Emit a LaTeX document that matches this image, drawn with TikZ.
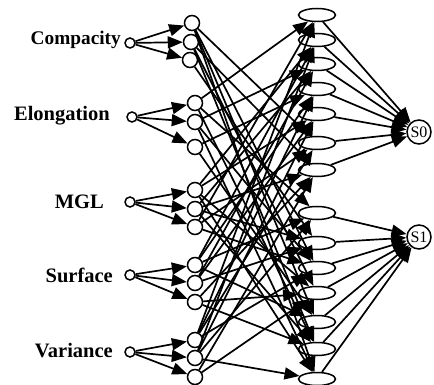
\documentclass[tikz,border=0pt]{standalone}
\usepackage{fontspec}
\setmainfont{Liberation Serif}
\usetikzlibrary{arrows.meta,shapes.geometric}
\begin{document}
\begin{tikzpicture}[x=1pt,y=-1pt,
  inp/.style={circle,draw,line width=1.5pt,minimum size=10pt,inner sep=0pt},
  hid/.style={circle,draw,line width=1.5pt,minimum size=15pt,inner sep=0pt},
  rule/.style={ellipse,draw,line width=1.5pt,minimum width=37pt,minimum height=13pt,inner sep=0pt},
  outn/.style={circle,draw,line width=1.5pt,minimum size=24pt,inner sep=0pt,font=\fontsize{16}{16}\selectfont},
  lab/.style={anchor=base east,inner sep=0pt,font=\fontsize{20.5}{20}\selectfont\bfseries},
  conn/.style={line width=1.7pt,-{Triangle[length=15pt,width=12pt]}}]
\useasboundingbox (0,0) rectangle (434,385);
% labels
\node[lab,font=\fontsize{19.3}{20}\selectfont\bfseries] (l1) at (121,45) {Compacity};
\node[lab] (l2) at (110,121) {Elongation};
\node[lab] (l3) at (104,208) {MGL};
\node[lab] (l4) at (113,282) {Surface};
\node[lab] (l5) at (113,357) {Variance};
% input circles
\node[inp] (in1) at (130,43) {};
\node[inp] (in2) at (132,117) {};
\node[inp] (in3) at (130,202) {};
\node[inp] (in4) at (130,275) {};
\node[inp] (in5) at (130,352) {};
% hidden circles
\node[hid] (h1) at (192,23) {};
\node[hid] (h2) at (191,42) {};
\node[hid] (h3) at (190,60) {};
\node[hid] (h4) at (195,103) {};
\node[hid] (h5) at (195,122) {};
\node[hid] (h6) at (195,147) {};
\node[hid] (h7) at (195,190) {};
\node[hid] (h8) at (195,209) {};
\node[hid] (h9) at (195,227) {};
\node[hid] (h10) at (195,265) {};
\node[hid] (h11) at (195,283) {};
\node[hid] (h12) at (195,302) {};
\node[hid] (h13) at (195,340) {};
\node[hid] (h14) at (195,358) {};
\node[hid] (h15) at (195,377) {};
% rule ellipses
\foreach \i/\y in {1/15,2/40,3/64,4/89,5/114,6/143,7/170,8/213,9/243,10/268,11/293,12/322,13/349,14/379}
  \node[rule] (r\i) at (317,\y) {};
% outputs
\node[outn] (s0) at (419,132) {S0};
\node[outn] (s1) at (419,237) {S1};
% input to hidden
\foreach \a/\b in {in1/h1,in1/h2,in1/h3,in2/h4,in2/h5,in2/h6,in3/h7,in3/h8,in3/h9,in4/h10,in4/h11,in4/h12,in5/h13,in5/h14,in5/h15}
  \draw[conn] (\a) -- (\b);
% hidden to rules
\foreach \a/\b in {h1/r6,h1/r10,h1/r12,h1/r14,h2/r7,h2/r11,h2/r13,h3/r9,
  h4/r1,h4/r8,h4/r13,h5/r3,h5/r10,h5/r14,h6/r4,h6/r12,
  h7/r2,h7/r5,h7/r11,h7/r14,h8/r3,h8/r7,h8/r9,h8/r13,h9/r1,h9/r6,h9/r10,
  h10/r2,h10/r4,h10/r8,h10/r12,h11/r3,h11/r5,h11/r9,h12/r7,h12/r11,h12/r13,
  h13/r1,h13/r4,h13/r6,h13/r10,h14/r2,h14/r5,h14/r8,h14/r14,h15/r7,h15/r11}
  \draw[conn] (\a) -- (\b);
% rules to outputs
\foreach \i in {1,...,7} \draw[conn] (r\i) -- (s0);
\foreach \i in {8,...,14} \draw[conn] (r\i) -- (s1);
\end{tikzpicture}
\end{document}
